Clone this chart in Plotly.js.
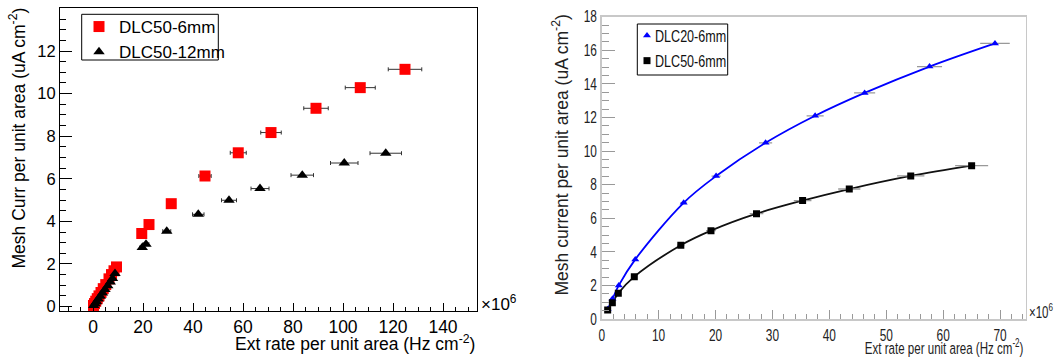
<!DOCTYPE html>
<html>
<head>
<meta charset="utf-8">
<script src="https://cdn.plot.ly/plotly-3.0.1.min.js"></script>
<style>html,body{margin:0;padding:0;background:#fff;}#chart{width:1054px;height:362px;}</style>
</head>
<body>
<div id="chart"></div>
<script>
// ---- Left panel data ----
const leftNames = ["DLC50-6mm", "DLC50-12mm"];
const red6X = [0.2, 0.6, 1.1, 1.7, 2.4, 3.2, 4.1, 5.1, 6.4, 7.4, 8.4, 9.4, 19.5, 22.4, 31.3, 44.8, 58.1, 71.2, 89.2, 106.9, 124.8];
const red6Y = [0.05, 0.14, 0.25, 0.37, 0.5, 0.66, 0.84, 1.03, 1.3, 1.5, 1.68, 1.86, 3.43, 3.85, 4.83, 6.13, 7.22, 8.17, 9.31, 10.28, 11.14];
const red6Err = [0.01, 0.03, 0.06, 0.09, 0.13, 0.18, 0.23, 0.28, 0.35, 0.41, 0.46, 0.51, 1.07, 1.23, 1.72, 2.46, 3.2, 4.1, 4.9, 6.0, 6.7];
const blk12X = [0.3, 0.8, 1.4, 2.1, 2.9, 3.8, 4.8, 5.9, 6.9, 7.8, 8.8, 19.7, 21.2, 29.5, 42.1, 54.4, 66.8, 83.7, 100.5, 117.1];
const blk12Y = [0.05, 0.13, 0.23, 0.35, 0.48, 0.63, 0.8, 0.98, 1.15, 1.32, 1.55, 2.77, 2.93, 3.54, 4.33, 4.99, 5.54, 6.17, 6.74, 7.2];
const blk12Err = [0.02, 0.04, 0.08, 0.11, 0.16, 0.2, 0.26, 0.32, 0.37, 0.42, 0.47, 1.06, 1.14, 1.6, 2.3, 3.0, 3.6, 4.5, 5.5, 6.3];

// ---- Right panel data ----
const rightNames = ["DLC20-6mm", "DLC50-6mm"];
const dlc20X = [1.05, 1.9, 3.0, 5.9, 14.4, 20.1, 28.8, 37.5, 46.2, 57.6, 69.1];
const dlc20Y = [0.58, 1.2, 2.0, 3.55, 6.92, 8.51, 10.49, 12.10, 13.46, 15.03, 16.41];
const dlc20Err = [0.05, 0.08, 0.12, 0.25, 0.6, 0.8, 1.15, 1.5, 1.85, 2.2, 2.6];
const dlc50X = [1.05, 1.87, 2.92, 5.73, 13.9, 19.2, 27.2, 35.3, 43.5, 54.3, 65.0];
const dlc50Y = [0.54, 0.97, 1.53, 2.52, 4.39, 5.26, 6.27, 7.05, 7.74, 8.52, 9.13];
const dlc50Err = [0.05, 0.08, 0.13, 0.26, 0.62, 0.85, 1.2, 1.55, 1.95, 2.4, 2.9];

const W = 1054, H = 362;
const px = v => v / W;
const py = v => 1 - v / H;
const F = "Liberation Sans, Arial, sans-serif";

const traces = [
  {x: red6X, y: red6Y, name: leftNames[0], type: 'scatter', mode: 'markers', xaxis: 'x', yaxis: 'y', legend: 'legend',
   marker: {symbol: 'square', size: 11, color: '#ff0000'},
   error_x: {type: 'data', array: red6Err, color: '#333', thickness: 1, width: 2}},
  {x: blk12X, y: blk12Y, name: leftNames[1], type: 'scatter', mode: 'markers', xaxis: 'x', yaxis: 'y', legend: 'legend',
   marker: {symbol: 'triangle-up', size: 10, color: '#000'},
   error_x: {type: 'data', array: blk12Err, color: '#333', thickness: 1, width: 2}},
  {x: dlc20X, y: dlc20Y, type: 'scatter', mode: 'lines', xaxis: 'x2', yaxis: 'y2', showlegend: false,
   line: {color: '#0000ff', width: 1.8, shape: 'spline'}},
  {x: dlc50X, y: dlc50Y, type: 'scatter', mode: 'lines', xaxis: 'x2', yaxis: 'y2', showlegend: false,
   line: {color: '#111', width: 1.8, shape: 'spline'}},
  {x: dlc20X, y: dlc20Y, name: rightNames[0], type: 'scatter', mode: 'markers', xaxis: 'x2', yaxis: 'y2', legend: 'legend2',
   marker: {symbol: 'triangle-up', size: 7, color: '#0000ff'},
   error_x: {type: 'data', array: dlc20Err, color: '#999', thickness: 1.3, width: 0}},
  {x: dlc50X, y: dlc50Y, name: rightNames[1], type: 'scatter', mode: 'markers', xaxis: 'x2', yaxis: 'y2', legend: 'legend2',
   marker: {symbol: 'square', size: 7, color: '#000'},
   error_x: {type: 'data', array: dlc50Err, color: '#999', thickness: 1.3, width: 0}}
];

const axBase = {showgrid: false, zeroline: false, showline: true, mirror: true, ticks: 'inside'};

const layout = {
  width: W, height: H,
  margin: {l: 0, r: 0, t: 0, b: 0},
  paper_bgcolor: '#fff', plot_bgcolor: '#fff',
  showlegend: true,
  xaxis: Object.assign({}, axBase, {
    domain: [px(60), px(477)], range: [-13.2, 153.6], anchor: 'y',
    linecolor: '#000', linewidth: 1, tickcolor: '#000', ticklen: 8, tickwidth: 1,
    tick0: 0, dtick: 20,
    minor: {ticks: 'inside', ticklen: 4, dtick: 5, tick0: 0, tickcolor: '#000', showgrid: false},
    tickfont: {family: F, size: 17.5, color: '#000'}
  }),
  yaxis: Object.assign({}, axBase, {
    domain: [py(311), py(8)], range: [-0.21, 14.02], anchor: 'x',
    linecolor: '#000', linewidth: 1, tickcolor: '#000', ticklen: 12, tickwidth: 1,
    tick0: 0, dtick: 2,
    minor: {ticks: 'inside', ticklen: 6, dtick: 0.5, tick0: 0, tickcolor: '#000', showgrid: false},
    tickfont: {family: F, size: 16.5, color: '#000'}
  }),
  xaxis2: Object.assign({}, axBase, {
    domain: [px(601.7), px(1025.7)], range: [0, 74.5], anchor: 'y2',
    linecolor: '#c8c8c8', linewidth: 1.5, tickcolor: '#999', ticklen: 9, tickwidth: 1,
    tick0: 0, dtick: 10,
    minor: {ticks: 'inside', ticklen: 5, dtick: 2, tick0: 0, tickcolor: '#999', showgrid: false},
    tickfont: {family: F, size: 17, color: '#222'}
  }),
  yaxis2: Object.assign({}, axBase, {
    domain: [py(319), py(16.7)], range: [0, 18], anchor: 'x2',
    linecolor: '#c8c8c8', linewidth: 1.5, tickcolor: '#999', ticklen: 13, tickwidth: 1,
    tick0: 0, dtick: 2,
    minor: {ticks: 'inside', ticklen: 7, dtick: 0.5, tick0: 0, tickcolor: '#999', showgrid: false},
    tickfont: {family: F, size: 16.5, color: '#222'}
  }),
  legend: {x: px(79), y: py(9), xanchor: 'left', yanchor: 'top', bgcolor: 'rgba(0,0,0,0)', borderwidth: 0,
           font: {family: F, size: 17, color: '#000'}, tracegroupgap: 0},
  legend2: {x: px(627), y: py(18), xanchor: 'left', yanchor: 'top', bgcolor: 'rgba(0,0,0,0)', borderwidth: 0,
           font: {family: F, size: 17, color: '#111'}, tracegroupgap: 0},
  shapes: [
    {type: 'rect', xref: 'paper', yref: 'paper', x0: px(81.7), x1: px(218.3), y0: py(60), y1: py(14.3),
     line: {color: '#000', width: 1}, fillcolor: 'rgba(0,0,0,0)'},
    {type: 'rect', xref: 'paper', yref: 'paper', x0: px(637.3), x1: px(727.7), y0: py(75), y1: py(24),
     line: {color: '#000', width: 1}, fillcolor: 'rgba(0,0,0,0)'}
  ],
  annotations: [
    {text: 'Ext rate per unit area (Hz cm<sup>-2</sup>)', xref: 'paper', yref: 'paper', x: px(477), y: py(343),
     xanchor: 'right', yanchor: 'middle', showarrow: false, font: {family: F, size: 17.5, color: '#000'}},
    {text: 'Mesh Curr per unit area (uA cm<sup>-2</sup>)', xref: 'paper', yref: 'paper', x: px(18), y: py(6),
     xanchor: 'center', yanchor: 'top', textangle: -90, showarrow: false, font: {family: F, size: 17.5, color: '#000'}},
    {text: '×10<sup>6</sup>', xref: 'paper', yref: 'paper', x: px(479), y: py(303),
     xanchor: 'left', yanchor: 'middle', showarrow: false, font: {family: F, size: 17, color: '#000'}},
    {text: 'Ext rate per unit area (Hz cm<sup>-2</sup>)', xref: 'paper', yref: 'paper', x: px(1026), y: py(347),
     xanchor: 'right', yanchor: 'middle', showarrow: false, font: {family: F, size: 17, color: '#222'}},
    {text: 'Mesh current per unit area (uA cm<sup>-2</sup>)', xref: 'paper', yref: 'paper', x: px(560), y: py(13),
     xanchor: 'center', yanchor: 'top', textangle: -90, showarrow: false, font: {family: F, size: 17.5, color: '#222'}},
    {text: '×10<sup>6</sup>', xref: 'paper', yref: 'paper', x: px(1027), y: py(311),
     xanchor: 'left', yanchor: 'middle', showarrow: false, font: {family: F, size: 16, color: '#222'}}
  ]
};

// The right-hand figure in the reference is horizontally compressed: narrow its texts.
function squeeze(el, s, mode, dx) {
  const tr = el.getAttribute('transform') || '';
  if (tr.indexOf('scale(') >= 0) return;
  let bb;
  try { bb = el.getBBox(); } catch (e) { return; }
  if (!bb || !bb.width) return;
  const p = mode === 'right' ? bb.x + bb.width : (mode === 'left' ? bb.x : bb.x + bb.width / 2);
  el.setAttribute('transform', tr + ' translate(' + (p + (dx || 0)) + ',0) scale(' + s + ',1) translate(' + (-p) + ',0)');
}

function narrowRight() {
  const gd = document.getElementById('chart');
  gd.querySelectorAll('g.x2tick text').forEach(t => squeeze(t, 0.7, 'center'));
  gd.querySelectorAll('g.y2tick text').forEach(t => squeeze(t, 0.72, 'right'));
  gd.querySelectorAll('text.legend2text, g.legend2 text.legendtext').forEach(t => squeeze(t, 0.74, 'left', -12));
  gd.querySelectorAll('g.annotation').forEach(a => {
    const idx = a.getAttribute('data-index');
    const t = a.querySelector('text.annotation-text');
    if (!t) return;
    if (idx === '3') squeeze(t, 0.68, 'right');
    if (idx === '5') squeeze(t, 0.72, 'left');
  });
}

const chartDiv = document.getElementById('chart');
const obs = new MutationObserver(() => narrowRight());
obs.observe(chartDiv, {subtree: true, childList: true, attributes: true, attributeFilter: ['transform', 'x', 'y']});

Plotly.newPlot('chart', traces, layout, {displayModeBar: false, staticPlot: true}).then(gd => {
  narrowRight();
  requestAnimationFrame(narrowRight);
  setTimeout(narrowRight, 50);
  setTimeout(narrowRight, 300);
});
</script>
</body>
</html>
